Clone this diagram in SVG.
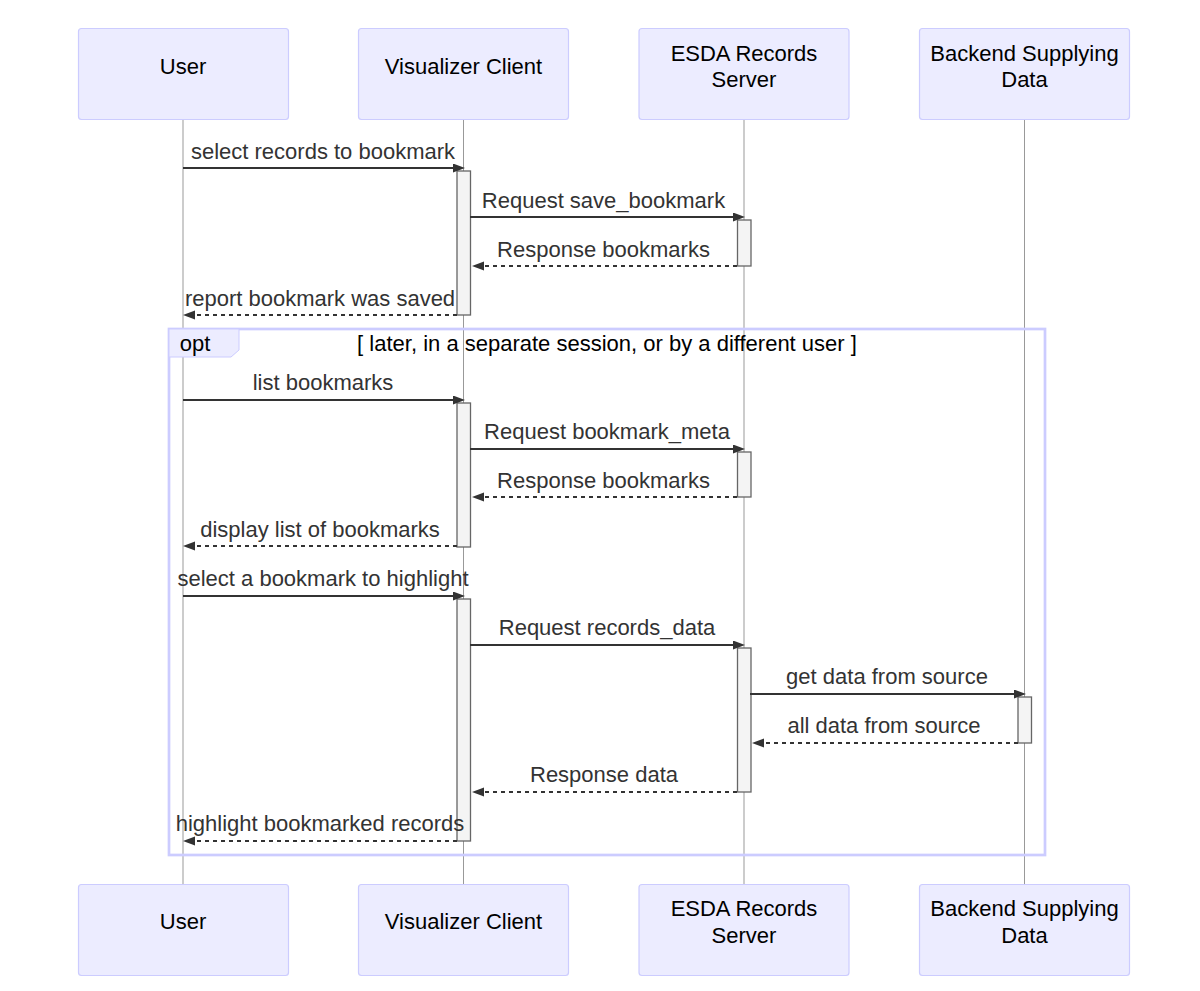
<svg xmlns="http://www.w3.org/2000/svg" width="1200" height="991" viewBox="0 0 1200 991">
<style>
.actor{fill:#ECECFF;stroke:#CCCCFF;stroke-width:1.2}
.atext{font-family:"Liberation Sans",Arial,sans-serif;font-size:22px;fill:#000;text-anchor:middle}
.life{stroke:#999;stroke-width:1}
.act{fill:#F4F4F4;stroke:#666;stroke-width:1.3}
.msg{stroke:#333;stroke-width:2;fill:none}
.dash{stroke-dasharray:4,4}
.mtext{font-family:"Liberation Sans",Arial,sans-serif;font-size:22px;fill:#333;text-anchor:middle}
.loop{fill:none;stroke:#CCCCFF;stroke-width:2.7}
.lbox{fill:#ECECFF;stroke:#CCCCFF;stroke-width:1}
.ltext{font-family:"Liberation Sans",Arial,sans-serif;font-size:22px;fill:#000}
</style>
<defs>
<marker id="ah" refX="9" refY="4.5" markerUnits="userSpaceOnUse" markerWidth="14" markerHeight="10" orient="auto-start-reverse"><path d="M 0 0 L 12 4.5 L 0 9 z" fill="#333"/></marker>
</defs>
<rect width="1200" height="991" fill="#fff"/>
<g id="lifelines">
<line class="life" x1="183" y1="119" x2="183" y2="884"/>
<line class="life" x1="463.5" y1="119" x2="463.5" y2="884"/>
<line class="life" x1="744" y1="119" x2="744" y2="884"/>
<line class="life" x1="1024.5" y1="119" x2="1024.5" y2="884"/>
</g>
<g id="actor-user">
<rect class="actor" x="78.5" y="28.5" width="210" height="91" rx="3"/>
<text class="atext" x="183" y="74">User</text>
<rect class="actor" x="78.5" y="884.5" width="210" height="91" rx="3"/>
<text class="atext" x="183" y="929">User</text>
</g>
<g id="actor-client">
<rect class="actor" x="358.5" y="28.5" width="210" height="91" rx="3"/>
<text class="atext" x="463.5" y="74">Visualizer Client</text>
<rect class="actor" x="358.5" y="884.5" width="210" height="91" rx="3"/>
<text class="atext" x="463.5" y="929">Visualizer Client</text>
</g>
<g id="actor-server">
<rect class="actor" x="639" y="28.5" width="210" height="91" rx="3"/>
<text class="atext" x="744" y="61">ESDA Records</text>
<text class="atext" x="744" y="87">Server</text>
<rect class="actor" x="639" y="884.5" width="210" height="91" rx="3"/>
<text class="atext" x="744" y="916">ESDA Records</text>
<text class="atext" x="744" y="943">Server</text>
</g>
<g id="actor-backend">
<rect class="actor" x="919.5" y="28.5" width="210" height="91" rx="3"/>
<text class="atext" x="1024.5" y="61">Backend Supplying</text>
<text class="atext" x="1024.5" y="87">Data</text>
<rect class="actor" x="919.5" y="884.5" width="210" height="91" rx="3"/>
<text class="atext" x="1024.5" y="916">Backend Supplying</text>
<text class="atext" x="1024.5" y="943">Data</text>
</g>
<g id="activations">
<rect class="act" x="457" y="171" width="13.5" height="144"/>
<rect class="act" x="737.5" y="220" width="13.5" height="46"/>
<rect class="act" x="457" y="403" width="13.5" height="144"/>
<rect class="act" x="737.5" y="452" width="13.5" height="45"/>
<rect class="act" x="457" y="599" width="13.5" height="242"/>
<rect class="act" x="737.5" y="648" width="13.5" height="144"/>
<rect class="act" x="1018" y="697" width="13.5" height="46"/>
</g>
<g id="opt-frame">
<rect class="loop" x="169" y="329" width="876" height="526"/>
<polygon class="lbox" points="169,329 239,329 239,350 231,357 169,357"/>
<text class="ltext" x="195" y="351" text-anchor="middle">opt</text>
<text class="ltext" x="607" y="351" text-anchor="middle">[ later, in a separate session, or by a different user ]</text>
</g>
<g id="connectors">
<line class="msg" x1="183" y1="168" x2="462" y2="168" marker-end="url(#ah)"/>
<text class="mtext" x="323" y="159">select records to bookmark</text>
<line class="msg" x1="470" y1="217" x2="742" y2="217" marker-end="url(#ah)"/>
<text class="mtext" x="603.5" y="208">Request save_bookmark</text>
<line class="msg dash" x1="737" y1="266" x2="475" y2="266" marker-end="url(#ah)"/>
<text class="mtext" x="603.5" y="257">Response bookmarks</text>
<line class="msg dash" x1="457" y1="315" x2="186" y2="315" marker-end="url(#ah)"/>
<text class="mtext" x="320" y="306">report bookmark was saved</text>
<line class="msg" x1="183" y1="400" x2="462" y2="400" marker-end="url(#ah)"/>
<text class="mtext" x="323" y="390">list bookmarks</text>
<line class="msg" x1="470" y1="449" x2="742" y2="449" marker-end="url(#ah)"/>
<text class="mtext" x="607" y="439">Request bookmark_meta</text>
<line class="msg dash" x1="737" y1="497" x2="475" y2="497" marker-end="url(#ah)"/>
<text class="mtext" x="603.5" y="488">Response bookmarks</text>
<line class="msg dash" x1="457" y1="546" x2="186" y2="546" marker-end="url(#ah)"/>
<text class="mtext" x="320" y="537">display list of bookmarks</text>
<line class="msg" x1="183" y1="596" x2="462" y2="596" marker-end="url(#ah)"/>
<text class="mtext" x="323" y="586">select a bookmark to highlight</text>
<line class="msg" x1="470" y1="645" x2="742" y2="645" marker-end="url(#ah)"/>
<text class="mtext" x="607" y="635">Request records_data</text>
<line class="msg" x1="750" y1="694" x2="1023" y2="694" marker-end="url(#ah)"/>
<text class="mtext" x="887" y="684">get data from source</text>
<line class="msg dash" x1="1018" y1="743" x2="755" y2="743" marker-end="url(#ah)"/>
<text class="mtext" x="884" y="733">all data from source</text>
<line class="msg dash" x1="737" y1="792" x2="475" y2="792" marker-end="url(#ah)"/>
<text class="mtext" x="604" y="782">Response data</text>
<line class="msg dash" x1="457" y1="841" x2="186" y2="841" marker-end="url(#ah)"/>
<text class="mtext" x="320" y="831">highlight bookmarked records</text>
</g>
</svg>
